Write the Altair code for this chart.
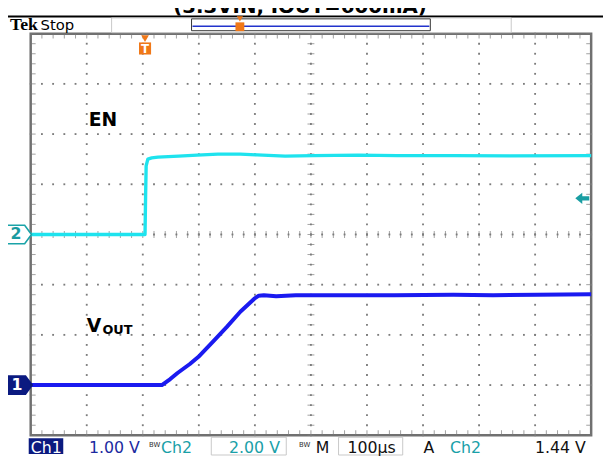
import altair as alt
import pandas as pd

# ---------------- data ----------------
# Ch2 = EN (2.00 V/div), time in microseconds relative to trigger
en_t = [-204, -100, 0, 1, 2, 5, 12, 23, 60, 93, 130, 170, 200, 250, 300, 380, 450, 550, 650, 796]
en_v = [0.0, 0.0, 0.0, 1.5, 2.73, 3.0, 3.05, 3.08, 3.12, 3.16, 3.2, 3.2, 3.17, 3.12, 3.14, 3.16, 3.14, 3.14, 3.13, 3.14]
# Ch1 = VOUT (1.00 V/div)
vo_t = [-204, -100, 0, 30, 45, 58, 80, 97, 120, 146, 170, 195, 203, 212, 234, 269, 350, 445, 550, 621, 700, 796]
vo_v = [0, 0, 0, 0, 0.12, 0.24, 0.42, 0.58, 0.85, 1.16, 1.46, 1.72, 1.78, 1.79, 1.77, 1.79, 1.79, 1.79, 1.8, 1.79, 1.8, 1.81]

ch1_scale = 1.0   # V/div
ch2_scale = 2.0   # V/div
ch1_ground = 1    # divisions from bottom
ch2_ground = 4
trig_level = 1.44  # V on Ch2
time_div = 100     # us/div
t_left = -204      # us at left edge

title_text = "(3.3VIN, IOUT=600mA)"
status = [
    ("1.00 V", 90, "#1c2aa0"),
    ("Ch2", 163, "#1aa0a8"),
    ("2.00 V", 232, "#1aa0a8"),
    ("M", 320, "#111111"),
    ("100µs", 352, "#111111"),
    ("A", 429, "#111111"),
    ("Ch2", 456, "#1aa0a8"),
    ("1.44 V", 542, "#111111"),
]

# ---------------- geometry ----------------
W, H = 568, 407
PX0, PY0 = 31, 31
def px(x):
    return x - PX0
def py(y):
    return y - PY0

xs = alt.Scale(domain=[t_left, t_left + 10 * time_div], nice=False, zero=False)
ys = alt.Scale(domain=[0, 8], nice=False, zero=False)
def X(f):
    return alt.X(f, type="quantitative", scale=xs, axis=None)
def Y(f):
    return alt.Y(f, type="quantitative", scale=ys, axis=None)

en_df = pd.DataFrame({"t": en_t, "v": en_v})
en_df["d"] = en_df.v / ch2_scale + ch2_ground
vo_df = pd.DataFrame({"t": vo_t, "v": vo_v})
vo_df["d"] = vo_df.v / ch1_scale + ch1_ground

one = pd.DataFrame({"a": [0]})

# graticule dots
dots = []
for k in range(1, 10):
    for j in range(41):
        dots.append({"t": t_left + k * time_div, "d": j * 0.2})
for m in range(1, 8):
    for j in range(51):
        dots.append({"t": t_left + j * time_div / 5, "d": m})
dots_df = pd.DataFrame(dots)

xt_df = pd.DataFrame({"t": [t_left + j * time_div / 5 for j in range(51)]})
yt_df = pd.DataFrame({"d": [j * 0.2 for j in range(41)]})

GRID = "#7c7c7c"
layers = []

# plot frame
layers.append(alt.Chart(one).mark_rect(fill="white", stroke="#707070", strokeWidth=2.5).encode(
    x=alt.value(0), x2=alt.value(W), y=alt.value(0), y2=alt.value(H)))

layers.append(alt.Chart(dots_df).mark_square(size=3.5, color=GRID, opacity=1).encode(x=X("t"), y=Y("d")))

# centre cross ticks
layers.append(alt.Chart(xt_df).mark_tick(orient="vertical", size=7, thickness=1, color=GRID).encode(
    x=X("t"), y=alt.Y("c:Q", scale=ys, axis=None)).transform_calculate(c="4"))
layers.append(alt.Chart(yt_df).mark_tick(orient="horizontal", size=7, thickness=1, color=GRID).encode(
    y=Y("d"), x=alt.X("c:Q", scale=xs, axis=None)).transform_calculate(c=str(t_left + 5 * time_div)))
# border rulers
layers.append(alt.Chart(xt_df).mark_tick(orient="vertical", size=5, thickness=1, color="#777", yOffset=2.5).encode(
    x=X("t"), y=alt.Y("c:Q", scale=ys, axis=None)).transform_calculate(c="8"))
layers.append(alt.Chart(xt_df).mark_tick(orient="vertical", size=5, thickness=1, color="#777", yOffset=-2.5).encode(
    x=X("t"), y=alt.Y("c:Q", scale=ys, axis=None)).transform_calculate(c="0"))
layers.append(alt.Chart(yt_df).mark_tick(orient="horizontal", size=5, thickness=1, color="#777", xOffset=2.5).encode(
    y=Y("d"), x=alt.X("c:Q", scale=xs, axis=None)).transform_calculate(c=str(t_left)))
layers.append(alt.Chart(yt_df).mark_tick(orient="horizontal", size=5, thickness=1, color="#777", xOffset=-2.5).encode(
    y=Y("d"), x=alt.X("c:Q", scale=xs, axis=None)).transform_calculate(c=str(t_left + 10 * time_div)))

# traces
layers.append(alt.Chart(en_df).mark_line(color="#1ee3ee", strokeWidth=3.4, strokeJoin="round").encode(
    x=X("t"), y=Y("d"), order="t:Q"))
layers.append(alt.Chart(vo_df).mark_line(color="#1a1af0", strokeWidth=4, strokeJoin="round").encode(
    x=X("t"), y=Y("d"), order="t:Q"))

# waveform labels
layers.append(alt.Chart(pd.DataFrame({"t": [-100.4], "d": [6.27], "s": ["EN"]})).mark_text(
    align="left", baseline="middle", font="DejaVu Sans", fontWeight="bold", fontSize=19, color="black").encode(
    x=X("t"), y=Y("d"), text="s:N"))
layers.append(alt.Chart(pd.DataFrame({"t": [-104], "d": [2.18], "s": ["V"]})).mark_text(
    align="left", baseline="middle", font="DejaVu Sans", fontWeight="bold", fontSize=19, color="black").encode(
    x=X("t"), y=Y("d"), text="s:N"))
layers.append(alt.Chart(pd.DataFrame({"t": [-76], "d": [2.1], "s": ["OUT"]})).mark_text(
    align="left", baseline="middle", font="DejaVu Sans", fontWeight="bold", fontSize=13, color="black").encode(
    x=X("t"), y=Y("d"), text="s:N"))

# channel ground markers
PENT = "M -1 -0.68 L 0.5 -0.68 L 1 0 L 0.5 0.68 L -1 0.68 Z"
layers.append(alt.Chart(pd.DataFrame({"d": [ch2_ground]})).mark_point(
    shape=PENT, size=760, filled=True, fill="white", stroke="#1aa3a8", strokeWidth=1.6, opacity=1).encode(
    x=alt.value(px(18)), y=Y("d")))
layers.append(alt.Chart(pd.DataFrame({"d": [ch2_ground], "s": ["2"]})).mark_text(
    font="DejaVu Sans", fontWeight="bold", fontSize=16, color="#1a9aa0", baseline="middle").encode(
    x=alt.value(px(16)), y=Y("d"), text="s:N"))
layers.append(alt.Chart(pd.DataFrame({"d": [ch1_ground]})).mark_point(
    shape=PENT, size=700, filled=True, fill="#0b1a80", stroke="#0b1a80", opacity=1).encode(
    x=alt.value(px(19)), y=Y("d")))
layers.append(alt.Chart(pd.DataFrame({"d": [ch1_ground], "s": ["1"]})).mark_text(
    font="DejaVu Sans", fontWeight="bold", fontSize=16, color="white", baseline="middle").encode(
    x=alt.value(px(17)), y=Y("d"), text="s:N"))

# trigger level arrow (right)
ARROW = "M -1 0 L 0 -0.8 L 0 -0.3 L 1 -0.3 L 1 0.3 L 0 0.3 L 0 0.8 Z"
layers.append(alt.Chart(pd.DataFrame({"d": [trig_level / ch2_scale + ch2_ground]})).mark_point(
    shape=ARROW, size=200, filled=True, color="#1a9ea3", opacity=1).encode(
    x=alt.value(px(590)), y=Y("d")))

# trigger position marker (top)
layers.append(alt.Chart(pd.DataFrame({"t": [0]})).mark_point(
    shape="triangle-down", size=60, filled=True, color="#f07818", opacity=1).encode(
    x=X("t"), y=alt.value(py(36))))
layers.append(alt.Chart(pd.DataFrame({"t": [0]})).mark_point(
    shape="square", size=150, filled=True, color="#f07818", opacity=1).encode(
    x=X("t"), y=alt.value(py(46))))
layers.append(alt.Chart(pd.DataFrame({"t": [0], "s": ["T"]})).mark_text(
    font="DejaVu Sans", fontWeight="bold", fontSize=12, color="white", baseline="middle").encode(
    x=X("t"), y=alt.value(py(46.5)), text="s:N"))

# ----- header -----
layers.append(alt.Chart(one).mark_text(font="DejaVu Sans", fontWeight="bold", fontSize=20, color="black",
    align="center", baseline="alphabetic").encode(x=alt.value(px(304)), y=alt.value(py(10.5)), text=alt.value(title_text)))
layers.append(alt.Chart(one).mark_rule(color="black", strokeWidth=2).encode(
    x=alt.value(px(0)), x2=alt.value(px(611)), y=alt.value(py(13.5))))
layers.append(alt.Chart(one).mark_text(font="Liberation Serif", fontWeight="bold", fontSize=18, color="black",
    align="left", baseline="alphabetic").encode(x=alt.value(px(10)), y=alt.value(py(27)), text=alt.value("Tek")))
layers.append(alt.Chart(one).mark_text(font="DejaVu Sans", fontSize=15, color="black",
    align="left", baseline="alphabetic").encode(x=alt.value(px(41)), y=alt.value(py(27)), text=alt.value("Stop")))
layers.append(alt.Chart(one).mark_rect(fill="none", stroke="#c8c8c8", strokeWidth=1).encode(
    x=alt.value(px(113)), x2=alt.value(px(518)), y=alt.value(py(15)), y2=alt.value(py(30))))
layers.append(alt.Chart(one).mark_rect(fill="white", stroke="#333", strokeWidth=1).encode(
    x=alt.value(px(194)), x2=alt.value(px(436)), y=alt.value(py(16)), y2=alt.value(py(28))))
layers.append(alt.Chart(one).mark_rule(color="#2233cc", strokeWidth=1.5).encode(
    x=alt.value(px(195)), x2=alt.value(px(435)), y=alt.value(py(23.5))))
layers.append(alt.Chart(one).mark_point(shape="triangle-down", size=40, filled=True, color="#f07818", opacity=1).encode(
    x=alt.value(px(243)), y=alt.value(py(16))))
layers.append(alt.Chart(one).mark_point(shape="square", size=80, filled=True, color="#f07818", opacity=1).encode(
    x=alt.value(px(243)), y=alt.value(py(24))))

# ----- status bar -----
layers.append(alt.Chart(one).mark_rect(fill="#0b1a80").encode(
    x=alt.value(px(29)), x2=alt.value(px(64)), y=alt.value(py(441)), y2=alt.value(py(457))))
layers.append(alt.Chart(one).mark_text(font="DejaVu Sans", fontSize=16, color="white", align="left",
    baseline="alphabetic").encode(x=alt.value(px(31)), y=alt.value(py(456)), text=alt.value("Ch1")))
for bx0, bx1 in [(214, 290), (343, 408)]:
    layers.append(alt.Chart(one).mark_rect(fill="none", stroke="#c8c8c8", strokeWidth=1).encode(
        x=alt.value(px(bx0)), x2=alt.value(px(bx1)), y=alt.value(py(440)), y2=alt.value(py(458))))
for bwx in [151, 303]:
    layers.append(alt.Chart(one).mark_text(font="DejaVu Sans", fontSize=7, color="#333", align="left",
        baseline="alphabetic").encode(x=alt.value(px(bwx)), y=alt.value(py(450)), text=alt.value("BW")))
st_df = pd.DataFrame({"s": [s[0] for s in status], "x": [px(s[1]) for s in status], "c": [s[2] for s in status]})
layers.append(alt.Chart(st_df).mark_text(font="DejaVu Sans", fontSize=16, align="left", baseline="alphabetic").encode(
    x=alt.X("x:Q", scale=None), y=alt.value(py(456)), text="s:N", color=alt.Color("c:N", scale=None)))

chart = alt.layer(*layers).properties(
    width=W, height=H,
    autosize=alt.AutoSizeParams(type="none"),
    padding={"left": PX0 - 8, "top": PY0 - 8, "right": 611 - 8 - (PX0 - 8) - W, "bottom": 456 - 8 - (PY0 - 8) - H},
    background="white",
).configure_view(stroke=None)

chart.save("out.html", embed_options={"renderer": "svg", "actions": False})
